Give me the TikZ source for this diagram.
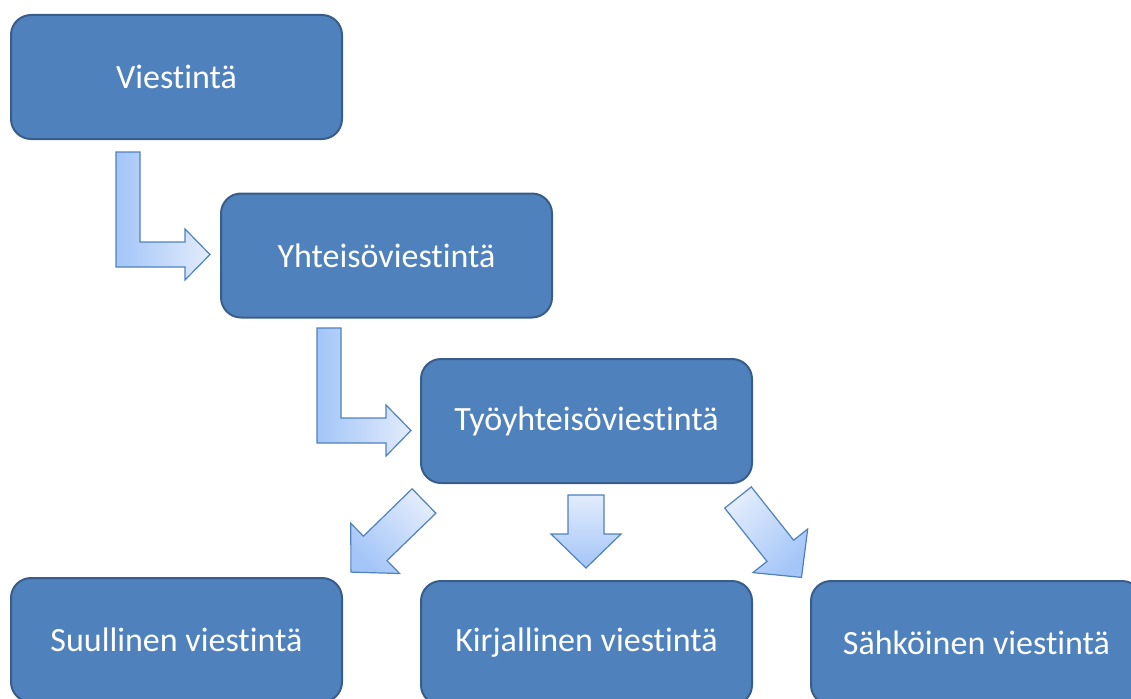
\documentclass[tikz,border=0pt]{standalone}
\usepackage{fontspec}
\setmainfont[Ligatures=NoCommon]{Carlito}
\usetikzlibrary{positioning}
\definecolor{boxfill}{RGB}{79,129,189}
\definecolor{boxline}{RGB}{56,93,138}
\definecolor{arrdark}{RGB}{163,197,248}
\definecolor{arrlight}{RGB}{226,236,252}
\definecolor{arrline}{RGB}{79,129,189}

\begin{document}
\begin{tikzpicture}[x=1pt, y=-1pt,
  font=\fontsize{34}{40}\selectfont,
  box/.style={draw=boxline, line width=2pt, fill=boxfill, rounded corners=20pt,
              text=white, minimum width=331pt, minimum height=124pt},
  blk/.style={draw=arrline, line width=1.2pt, line join=miter},
  larrow/.pic={\draw[blk, left color=arrdark, right color=arrlight]
      (0,0) -- (24,0) -- (24,90) -- (69,90) -- (69,77) -- (94,102.5)
      -- (69,128) -- (69,115) -- (0,115) -- cycle;}]
  \useasboundingbox (0,0) rectangle (1131,698);
  \clip (0,0) rectangle (1131,698);

  \node[box] (vi) at (176.5,77) {Viestintä};
  \node[box] (yh) at (386.5,255.5) {Yhteisöviestintä};
  \node[box] (ty) at (586.5,421) {Työyhteisöviestintä};
  \node[box] (su) at (176.5,640) {Suullinen viestintä};
  \node[box] (ki) at (586.5,643) {Kirjallinen viestintä};
  \node[box] (sa) at (976.5,643) {Sähköinen viestintä};

  % bent arrows down the steps
  \pic (la1) at (116,152) {larrow};
  \pic (la2) at (317,328) {larrow};

  % three arrows out of ty
  \draw[blk, top color=arrlight, bottom color=arrdark, shading angle=-45]
      (412.1,488.8) -- (435.9,513.2) -- (387,560.6) -- (399.6,573.5)
      -- (350.9,572.1) -- (350.8,523.3) -- (363.4,536.2) -- cycle;
  \draw[blk, top color=arrlight, bottom color=arrdark]
      (568,495) -- (604,495) -- (604,534) -- (621,534) -- (586,568)
      -- (551,534) -- (568,534) -- cycle;
  \draw[blk, top color=arrlight, bottom color=arrdark, shading angle=45]
      (751.3,486.9) -- (724.7,508.1) -- (767,561.4) -- (752.9,572.6)
      -- (801.5,577.4) -- (807.7,529) -- (793.6,540.2) -- cycle;
\end{tikzpicture}
\end{document}
